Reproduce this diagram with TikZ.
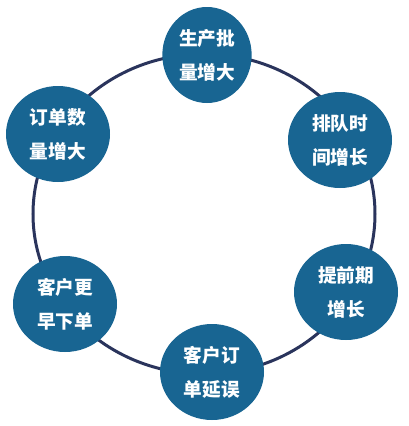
\documentclass[tikz,border=0pt]{standalone}
\usepackage{fontspec}
\newfontfamily\cjk{Noto Sans CJK SC}
\usetikzlibrary{shapes.geometric}
\definecolor{ballblue}{RGB}{24,101,146}
\definecolor{ringnavy}{RGB}{42,52,92}
\begin{document}
\begin{tikzpicture}[x=0.75pt,y=0.75pt,yscale=-1,xscale=1,
  ball/.style={ellipse,fill=ballblue,draw=none,inner sep=0pt,
    minimum width=78pt,minimum height=72pt,text=white,align=center,
    font=\cjk\bfseries\fontsize{14pt}{25.5pt}\selectfont},
  ring/.style={draw=ringnavy,line width=2.25}]
\useasboundingbox (0,0) rectangle (409,426);

%Shape: Ellipse [ring]
\coordinate (mid) at (204,214);
\draw [ring] (mid) ellipse [x radius=171, y radius=160];

%Shape: Circles
\node [ball,minimum width=67pt] (batch) at (207,55) {生产批\\量增大};
\node [ball] (queue) at (340,140) {排队时\\间增长};
\node [ball] (lead) at (346,292) {提前期\\增长};
\node [ball] (delay) at (212,372) {客户订\\单延误};
\node [ball] (early) at (65,304) {客户更\\早下单};
\node [ball] (orders) at (58,134) {订单数\\量增大};

\end{tikzpicture}
\end{document}
